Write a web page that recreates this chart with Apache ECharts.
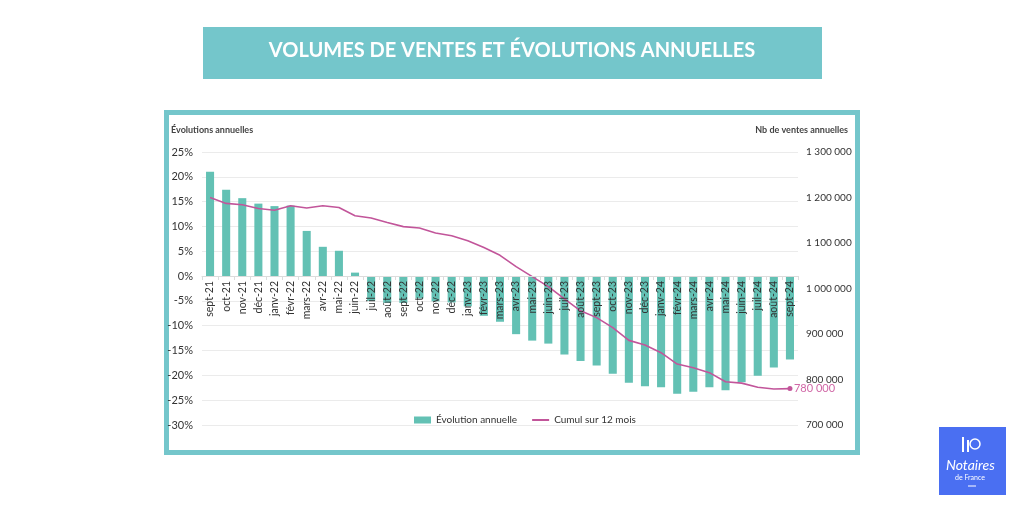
<!DOCTYPE html>
<html>
<head>
<meta charset="utf-8">
<script src="https://cdn.jsdelivr.net/npm/echarts@6/dist/echarts.min.js"></script>
<style>
  html, body { margin: 0; padding: 0; background: #fff; }
  #chart { width: 1024px; height: 512px; }
</style>
</head>
<body>
<div id="chart"></div>
<script>
// mois (axe des catégories)
var months = ['sept-21','oct-21','nov-21','déc-21','janv-22','févr-22','mars-22','avr-22','mai-22','juin-22',
  'juil-22','août-22','sept-22','oct-22','nov-22','déc-22','janv-23','févr-23','mars-23','avr-23',
  'mai-23','juin-23','juil-23','août-23','sept-23','oct-23','nov-23','déc-23','janv-24','févr-24',
  'mars-24','avr-24','mai-24','juin-24','juil-24','août-24','sept-24'];

// évolution annuelle en %
var evolution = [21.0, 17.4, 15.7, 14.6, 14.1, 14.2, 9.1, 5.9, 5.1, 0.7,
  -5.0, -5.4, -5.4, -4.5, -5.1, -5.3, -6.1, -8.0, -9.2, -11.7,
  -13.0, -13.6, -15.8, -17.1, -18.0, -19.7, -21.5, -22.2, -22.4, -23.7,
  -23.3, -22.4, -23.0, -21.4, -20.1, -18.4, -16.8];

// cumul sur 12 mois (nb de ventes)
var cumul = [1200000, 1187000, 1184000, 1176000, 1172000, 1182000, 1177000, 1182000, 1178000, 1160000,
  1155000, 1145000, 1136000, 1133000, 1122000, 1116000, 1105000, 1090000, 1073000, 1048000,
  1026000, 1004000, 977000, 951000, 936000, 914000, 886000, 876000, 859000, 834000,
  826000, 815000, 795000, 792000, 783000, 779000, 780000];

var teal = '#74c6cb';
var barColor = '#63c1b4';
var pink = '#c2559a';
var font = 'Lato';

function fmtNb(v) {
  return String(v).replace(/\B(?=(\d{3})+(?!\d))/g, ' ');
}

var chart = echarts.init(document.getElementById('chart'));

// seul le dernier point a un marqueur
var lineData = cumul.map(function (v, i) {
  return i === cumul.length - 1 ? { value: v, symbolSize: 5 } : v;
});

var option = {
  backgroundColor: '#fff',
  animation: false,
  textStyle: { fontFamily: font },
  grid: { left: 202, right: 226, top: 152, bottom: 87 },
  legend: {
    bottom: 82,
    left: 409,
    itemGap: 14,
    itemWidth: 17,
    itemHeight: 7,
    textStyle: { fontSize: 10, color: '#333', fontFamily: font },
    data: [
      { name: 'Évolution annuelle', icon: 'rect' },
      { name: 'Cumul sur 12 mois', itemStyle: { opacity: 0 } }
    ]
  },
  xAxis: {
    type: 'category',
    data: months,
    z: 10,
    // l'axe des mois passe par 0 %
    offset: -149,
    axisLine: { onZero: false, lineStyle: { color: '#dcdcdc' } },
    axisTick: { show: true, length: 4, lineStyle: { color: '#dcdcdc' } },
    axisLabel: { rotate: 90, interval: 0, fontSize: 10.5, color: '#333', fontFamily: font, margin: 5 }
  },
  yAxis: [
    {
      type: 'value', min: -30, max: 25, interval: 5,
      axisLine: { show: false }, axisTick: { show: false },
      axisLabel: { formatter: '{value}%', fontSize: 11, color: '#333', fontFamily: font, margin: 9 },
      splitLine: { lineStyle: { color: '#ebebeb' } }
    },
    {
      type: 'value', min: 700000, max: 1300000, interval: 100000,
      axisLine: { show: false }, axisTick: { show: false },
      axisLabel: { formatter: fmtNb, fontSize: 10, color: '#333', fontFamily: font, margin: 8 },
      splitLine: { show: false }
    }
  ],
  series: [
    {
      name: 'Évolution annuelle',
      type: 'bar',
      data: evolution,
      barWidth: '50%',
      itemStyle: { color: barColor },
      yAxisIndex: 0
    },
    {
      name: 'Cumul sur 12 mois',
      type: 'line',
      data: lineData,
      yAxisIndex: 1,
      symbol: 'circle',
      symbolSize: 0,
      showSymbol: true,
      itemStyle: { color: pink },
      lineStyle: { color: pink, width: 1.6 },
      endLabel: {
        show: true, color: '#d067a6', fontSize: 11, fontFamily: font, distance: 4,
        formatter: function (p) { return fmtNb(p.value); }
      },
      z: 5
    }
  ],
  graphic: [
    // bandeau titre
    { type: 'rect', z: -1, shape: { x: 203, y: 27, width: 619, height: 52 }, style: { fill: teal } },
    { type: 'text', left: 'center', top: 41,
      style: { text: 'VOLUMES DE VENTES ET ÉVOLUTIONS ANNUELLES', fill: '#fff',
        font: 'bold 20px ' + font } },
    // cadre
    { type: 'rect', z: -2, shape: { x: 166.5, y: 112.5, width: 691, height: 340 },
      style: { fill: '#fff', stroke: teal, lineWidth: 5 } },
    { type: 'text', left: 171, top: 126,
      style: { text: 'Évolutions annuelles', fill: '#444', font: 'bold 9px ' + font } },
    { type: 'text', right: 176, top: 126,
      style: { text: 'Nb de ventes annuelles', fill: '#444', font: 'bold 9px ' + font } },
    // logo
    { type: 'rect', shape: { x: 939, y: 427, width: 67, height: 68 }, style: { fill: '#4a6ff2' } },
    { type: 'text', left: 946, top: 458,
      style: { text: 'Notaires', fill: '#fff', font: 'italic 14px ' + font } },
    { type: 'text', left: 955, top: 474,
      style: { text: 'de France', fill: '#fff', font: '7px ' + font } },
    { type: 'line', shape: { x1: 968, y1: 486, x2: 976, y2: 486 }, style: { stroke: '#fff', lineWidth: 1 } },
    { type: 'circle', shape: { cx: 975, cy: 444, r: 5 }, style: { fill: 'none', stroke: '#fff', lineWidth: 1.5 } },
    { type: 'line', shape: { x1: 963, y1: 437, x2: 963, y2: 452 }, style: { stroke: '#fff', lineWidth: 2 } },
    { type: 'line', shape: { x1: 968, y1: 440, x2: 968, y2: 452 }, style: { stroke: '#fff', lineWidth: 2 } }
  ]
};

chart.setOption(option);
</script>
</body>
</html>
